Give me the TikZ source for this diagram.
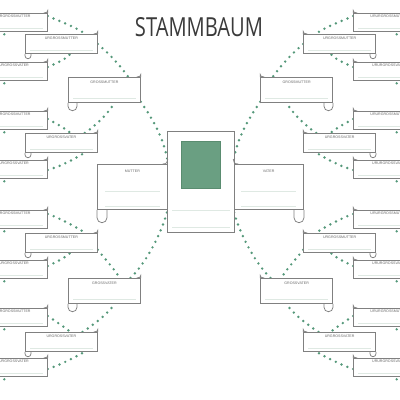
\documentclass[tikz,border=0pt]{standalone}
\usepackage{graphicx}
\usepackage{fontspec}
\setmainfont{Liberation Sans}
\newfontfamily\titlefont{Open Sans}
\usetikzlibrary{calc}
\pgfdeclarelayer{bg}
\pgfsetlayers{bg,main}
\definecolor{boxgray}{HTML}{808080}
\definecolor{dotgreen}{HTML}{55987A}
\definecolor{faint}{HTML}{DFE9E3}
\definecolor{lblgray}{HTML}{666666}
\definecolor{picfill}{HTML}{6A9F82}
\definecolor{picdraw}{HTML}{5A8C70}
\definecolor{titlegray}{HTML}{3A3A3A}
\newcommand\sang[1]{90+(\sg)*(#1-90)}
\newcommand\scrollcurl[3]{\draw[boxline] (#1.south \otr) -- ++(0,{#2-#3/2}) arc[start angle={90+90*(\sg)}, end angle={90-90*(\sg)}, radius={#3/2}] -- ++(0,{#3/2-#2});}
\newcommand\scrollflick[1]{\draw[boxline] ($(#1.north \inr)+({-4*(\sg)},0)$) .. controls +({3*(\sg)},0) and +(0,1.5) .. ($(#1.north \inr)+(0,-2.5)$) -- (#1.north \inr);}
\newcommand\writeline[3]{\draw[faintline] ($(#1.south west)+(#2,-#3)$) -- ($(#1.south east)+(-#2,-#3)$);}
\tikzset{
  boxline/.style={draw=boxgray, line width=0.75pt},
  lbl/.style={anchor=north, font=\fontsize{3.6pt}{4pt}\selectfont, text=lblgray},
  scrollbox/.style={boxline, fill=white, inner sep=0pt, minimum width=72pt},
  g4/.style={scrollbox, minimum height=18pt, label={[lbl, inner sep=2.2pt]north:#1}},
  g3/.style={scrollbox, minimum height=19pt, label={[lbl, inner sep=2.7pt]north:#1}},
  g2/.style={scrollbox, minimum height=25pt, label={[lbl, inner sep=3.7pt]north:#1}},
  g1/.style={scrollbox, minimum width=70pt, minimum height=45pt, label={[lbl, inner sep=5.7pt]north:#1}},
  dotlink/.style={draw=dotgreen, line width=2.7pt, line cap=round, dash pattern=on 0pt off 6.3pt},
  faintline/.style={draw=faint, line width=0.6pt},
}
\begin{document}
\begin{tikzpicture}[x=1pt,y=1pt,yscale=-1]
\useasboundingbox (0,0) rectangle (400,400);
\node[font=\titlefont, text=titlegray, inner sep=0pt] (title) at (199,27.5) {\resizebox{128pt}{19pt}{STAMMBAUM}};

% boxes
\foreach \sd/\xa/\xb/\xc/\xd/\an/\pl in {L/-25/25/68/97/north west/MUTTER, R/426/376/333/304/north east/VATER}{
  \foreach \kk/\y/\lab in {a/13/MUTTER, b/62/VATER, c/111/MUTTER, d/160/VATER, e/210/MUTTER, f/260/VATER, g/308/MUTTER, h/358/VATER}
    \node[g4=URURGROSS\lab, anchor=\an] (\sd4\kk) at (\xa,\y) {};
  \foreach \kk/\y/\lab in {a/34/MUTTER, b/133/VATER, c/233/MUTTER, d/332/VATER}
    \node[g3=URGROSS\lab, anchor=\an] (\sd3\kk) at (\xb,\y) {};
  \foreach \kk/\y/\lab in {a/77/MUTTER, b/278/VATER}
    \node[g2=GROSS\lab, anchor=\an] (\sd2\kk) at (\xc,\y) {};
  \node[g1=\pl, anchor=\an] (\sd1) at (\xd,164) {};
}

% photo frame
\node[boxline, fill=white, inner sep=0pt, minimum width=67pt, minimum height=101pt, anchor=north west] (photo) at (167,131) {};
\node[fill=picfill, draw=picdraw, line width=0.5pt, inner sep=0pt, minimum width=39pt, minimum height=47pt] (pic) at (200.5,164.5) {};
\writeline{photo}{5}{22}
\writeline{photo}{5}{5}

% scroll details and dotted links
\foreach \sd/\inr/\otr/\sg in {L/east/west/1, R/west/east/-1}{
  \foreach \kk in {a,...,h} {\scrollcurl{\sd4\kk}{5}{6}\scrollflick{\sd4\kk}\writeline{\sd4\kk}{5}{3}}
  \foreach \kk in {a,...,d} {\scrollcurl{\sd3\kk}{5}{6}\scrollflick{\sd3\kk}\writeline{\sd3\kk}{5}{3}}
  \foreach \kk in {a,b} {\scrollcurl{\sd2\kk}{8}{9}\scrollflick{\sd2\kk}\writeline{\sd2\kk}{5}{4}}
  \scrollcurl{\sd1}{13}{10}
  \writeline{\sd1}{8}{18}
  \writeline{\sd1}{8}{3}
  \draw[boxline] ($(\sd1.north \inr)+({-5*(\sg)},0)$) .. controls +({4*(\sg)},0) and +(0,3) .. ($(\sd1.north \inr)+(0,-5)$);
  \begin{pgfonlayer}{bg}
    \foreach \kk in {a,...,h}
      \draw[dotlink] ($(\sd4\kk.south \otr)+(0,14)$) .. controls +({\sang{-20}}:14) and +({\sang{150}}:10) .. ($(\sd4\kk.south \otr)!0.47!(\sd4\kk.south \inr)$);
    \draw[dotlink] ($(\sd4a.north \inr)+(0,3)$) .. controls +({\sang{24}}:14) and +({\sang{-144}}:12) .. ($(\sd3a.north \otr)!0.83!(\sd3a.north \inr)$);
    \draw[dotlink] ($(\sd4b.north \inr)+(0,5)$) .. controls +({\sang{-25}}:10) and +({\sang{130}}:8) .. ($(\sd3a.south \otr)!0.625!(\sd3a.south \inr)$);
    \draw[dotlink] ($(\sd3a.north \inr)+(0,10)$) .. controls +({\sang{40}}:15) and +({\sang{-126}}:15) .. ($(\sd2a.north \otr)!0.83!(\sd2a.north \inr)$);
    \draw[dotlink] ($(\sd4c.north \inr)+(0,8)$) .. controls +({\sang{28}}:8) and +({\sang{-140}}:8) .. ($(\sd3b.north \otr)!0.625!(\sd3b.north \inr)$);
    \draw[dotlink] ($(\sd4d.north \inr)+(0,10)$) .. controls +({\sang{-15}}:12) and +({\sang{148}}:12) .. ($(\sd3b.south \otr)!0.82!(\sd3b.south \inr)$);
    \draw[dotlink] ($(\sd3b.north \otr)!0.82!(\sd3b.north \inr)$) .. controls +({\sang{-32}}:12) and +({\sang{120}}:12) .. ($(\sd2a.south \otr)!0.64!(\sd2a.south \inr)$);
    \draw[dotlink] ($(\sd2a.south \inr)+(0,-1)$) .. controls +({\sang{55}}:25) and +({\sang{-100}}:20) .. ($(\sd1.north \inr)+(0,-3)$);
    \draw[dotlink] ($(\sd4e.north \inr)+(0,4)$) .. controls +({\sang{18}}:12) and +({\sang{-148}}:12) .. ($(\sd3c.north \otr)!0.83!(\sd3c.north \inr)$);
    \draw[dotlink] ($(\sd4f.north \inr)+(0,6)$) .. controls +({\sang{-25}}:9) and +({\sang{135}}:7) .. ($(\sd3c.south \otr)!0.625!(\sd3c.south \inr)$);
    \draw[dotlink] ($(\sd3c.south \inr)+(0,-3)$) .. controls +({\sang{52}}:10) and +({\sang{-120}}:10) .. ($(\sd2b.north \otr)!0.71!(\sd2b.north \inr)$);
    \draw[dotlink] ($(\sd4g.north \inr)+(0,8)$) .. controls +({\sang{35}}:8) and +({\sang{-140}}:8) .. ($(\sd3d.north \otr)!0.625!(\sd3d.north \inr)$);
    \draw[dotlink] ($(\sd4h.north \inr)+(0,11)$) .. controls +({\sang{-18}}:12) and +({\sang{150}}:12) .. ($(\sd3d.south \otr)!0.82!(\sd3d.south \inr)$);
    \draw[dotlink] ($(\sd3d.north \otr)!0.79!(\sd3d.north \inr)$) .. controls +({\sang{-33}}:12) and +({\sang{122}}:12) .. ($(\sd2b.south \otr)!0.64!(\sd2b.south \inr)$);
    \draw[dotlink] ($(\sd2b.north \otr)!0.86!(\sd2b.north \inr)$) .. controls +({\sang{-45}}:25) and +({\sang{105}}:22) .. (\sd1.south \inr);
  \end{pgfonlayer}
}
\end{tikzpicture}
\end{document}
